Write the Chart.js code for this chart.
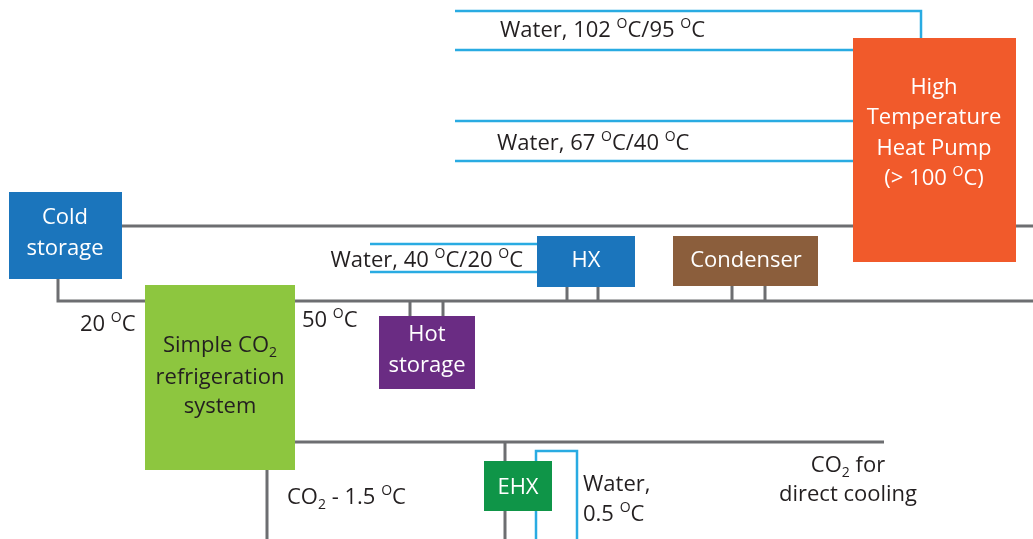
<!DOCTYPE html>
<html>
<head>
<meta charset="utf-8">
<script src="https://cdn.jsdelivr.net/npm/chart.js@4.4.1/dist/chart.umd.min.js"></script>
<style>
  html, body { margin: 0; padding: 0; background: #fff; }
  #wrap { width: 1033px; height: 539px; position: relative; }
</style>
</head>
<body>
<div id="wrap"><canvas id="diagrama"></canvas></div>
<script>
// tubulacoes de CO2 (cinza) - pontos [x, y]
const tubosCinza = [
  [[122, 226], [1033, 226]],
  [[58, 278], [58, 301], [146, 301]],
  [[295, 301], [1033, 301]],
  [[410, 301], [410, 316]],
  [[443, 301], [443, 316]],
  [[567, 287], [567, 301]],
  [[598, 287], [598, 301]],
  [[732, 286], [732, 301]],
  [[765, 286], [765, 301]],
  [[295, 442], [884, 442]],
  [[267, 470], [267, 539]],
  [[505, 442], [505, 539]]
]

// tubulacoes de agua (azul)
const tubosAgua = [
  [[455, 11], [921, 11], [921, 38]],
  [[455, 50], [853, 50]],
  [[455, 121], [853, 121]],
  [[455, 161], [853, 161]],
  [[370, 244], [537, 244]],
  [[370, 272], [537, 272]],
  [[536, 539], [536, 451], [577, 451], [577, 539]]
]

// equipamentos: nome, x0, y0, x1, y1
const caixas = [
  ['cold', 9, 192, 122, 279],
  ['bomba', 853, 38, 1016, 262],
  ['co2', 145, 285, 295, 470],
  ['hot', 379, 316, 475, 389],
  ['hx', 537, 236, 635, 287],
  ['condensador', 673, 236, 818, 286],
  ['ehx', 484, 461, 552, 511]
]

// textos: texto (^ = sobrescrito, _ = subscrito), x, y, alinhamento, cor
const textos = [
  ['Water, 102 ^OC/95 ^OC', 500, 30, 'left', 'escuro'],
  ['Water, 67 ^OC/40 ^OC', 497, 143, 'left', 'escuro'],
  ['High', 934, 87, 'center', 'branco'],
  ['Temperature', 934, 117, 'center', 'branco'],
  ['Heat Pump', 934, 148, 'center', 'branco'],
  ['(> 100 ^OC)', 934, 178, 'center', 'branco'],
  ['Cold', 65, 217, 'center', 'branco'],
  ['storage', 65, 248, 'center', 'branco'],
  ['20 ^OC', 80, 324, 'left', 'escuro'],
  ['50 ^OC', 302, 320, 'left', 'escuro'],
  ['Simple CO_2', 220, 345, 'center', 'escuro'],
  ['refrigeration', 220, 377, 'center', 'escuro'],
  ['system', 220, 406, 'center', 'escuro'],
  ['Hot', 427, 334, 'center', 'branco'],
  ['storage', 427, 365, 'center', 'branco'],
  ['Water, 40 ^OC/20 ^OC', 523, 260, 'right', 'escuro'],
  ['HX', 586, 260, 'center', 'branco'],
  ['Condenser', 746, 260, 'center', 'branco'],
  ['CO_2 - 1.5 ^OC', 287, 497, 'left', 'escuro'],
  ['EHX', 518, 487, 'center', 'branco'],
  ['Water,', 583, 484, 'left', 'escuro'],
  ['0.5 ^OC', 583, 514, 'left', 'escuro'],
  ['CO_2 for', 848, 465, 'center', 'escuro'],
  ['direct cooling', 848, 494, 'center', 'escuro']
]

const cores = {
  cinza: '#6d6e71',
  agua: '#29abe2',
  cold: '#1b75bc',
  bomba: '#f15a2b',
  co2: '#8dc63f',
  hot: '#6a2c83',
  hx: '#1b75bc',
  condensador: '#8b5e3c',
  ehx: '#0f9548',
  escuro: '#231f20',
  branco: '#ffffff'
}
const FONTE = '"Open Sans"'
const TAM = 22

function criaDataset(pontos, cor, largura) {
  return {
    data: pontos.map(([x, y]) => ({ x, y })),
    borderColor: cor,
    borderWidth: largura,
    showLine: true,
    pointRadius: 0,
    tension: 0,
    fill: false,
    borderCapStyle: 'butt',
    borderJoinStyle: 'miter'
  }
}

function desenhaTexto(ctx, txt, x, y, alinhamento, cor) {
  const partes = []
  let buf = ''
  for (let i = 0; i < txt.length; i++) {
    const c = txt[i]
    if ((c === '^' || c === '_') && i + 1 < txt.length) {
      if (buf) partes.push({ s: buf, tipo: 'n' })
      buf = ''
      partes.push({ s: txt[i + 1], tipo: c === '^' ? 'sup' : 'sub' })
      i++
      continue
    }
    buf += c
  }
  if (buf) partes.push({ s: buf, tipo: 'n' })

  const fNormal = `${TAM}px ${FONTE}`
  const fPequena = `${Math.round(TAM * 0.62)}px ${FONTE}`
  let total = 0
  partes.forEach(p => {
    ctx.font = p.tipo === 'n' ? fNormal : fPequena
    p.w = ctx.measureText(p.s).width
    total += p.w
  })
  let cx = alinhamento === 'center' ? x - total / 2 : alinhamento === 'right' ? x - total : x
  ctx.textAlign = 'left'
  ctx.textBaseline = 'middle'
  ctx.fillStyle = cor
  partes.forEach(p => {
    ctx.font = p.tipo === 'n' ? fNormal : fPequena
    const dy = p.tipo === 'sup' ? -TAM * 0.3 : p.tipo === 'sub' ? TAM * 0.32 : 0
    ctx.fillText(p.s, cx, y + 1 + dy)
    cx += p.w
  })
}

const pluginEquipamentos = {
  id: 'equipamentos',
  afterDatasetsDraw(chart) {
    const { ctx, scales } = chart
    const px = v => scales.x.getPixelForValue(v)
    const py = v => scales.y.getPixelForValue(v)
    ctx.save()
    caixas.forEach(([nome, x0, y0, x1, y1]) => {
      ctx.fillStyle = cores[nome]
      ctx.fillRect(px(x0), py(y0), px(x1) - px(x0), py(y1) - py(y0))
    })
    textos.forEach(([t, x, y, al, cor]) => desenhaTexto(ctx, t, px(x), py(y), al, cores[cor]))
    ctx.restore()
  }
}

const datasets = [
  ...tubosCinza.map(t => criaDataset(t, cores.cinza, 3)),
  ...tubosAgua.map(t => criaDataset(t, cores.agua, 2.5))
]

const diagrama = new Chart(document.getElementById('diagrama'), {
  type: 'scatter',
  data: { datasets },
  options: {
    responsive: true,
    maintainAspectRatio: false,
    animation: false,
    events: [],
    layout: { padding: 0 },
    plugins: { legend: { display: false }, tooltip: { enabled: false } },
    scales: {
      x: { type: 'linear', min: 0, max: 1033, display: false },
      y: { type: 'linear', min: 0, max: 539, reverse: true, display: false }
    }
  },
  plugins: [pluginEquipamentos]
})
</script>
</body>
</html>
